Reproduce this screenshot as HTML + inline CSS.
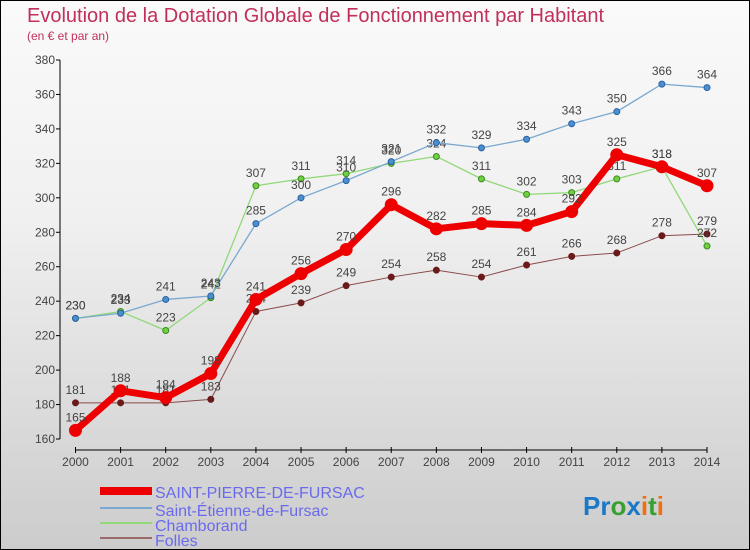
<!DOCTYPE html>
<html><head><meta charset="utf-8"><style>
body{margin:0;width:750px;height:550px;overflow:hidden;font-family:"Liberation Sans",sans-serif}
#wrap{position:absolute;left:0;top:0;width:748px;height:548px;border:1px solid #000;background:linear-gradient(#fafafa,#f0f0f0 40%,#cccccc)}
</style></head><body>
<div id="wrap">
<svg id="chart" width="750" height="550" style="position:absolute;left:-1px;top:-1px">
<text x="27" y="22" font-size="20" fill="#c0305a">Evolution de la Dotation Globale de Fonctionnement par Habitant</text>
<text x="27" y="40" font-size="12" fill="#c0305a">(en € et par an)</text>
<g id="axes"></g><g id="series"></g>
<g>
<rect x="100" y="487" width="52" height="8" fill="#e00"/>
<text x="155" y="498" font-size="16" fill="#6a6aee">SAINT-PIERRE-DE-FURSAC</text>
<rect x="100" y="507" width="52" height="2" fill="#7aa8d0"/>
<text x="155" y="516" font-size="16" fill="#6a6aee">Saint-Étienne-de-Fursac</text>
<rect x="100" y="522" width="52" height="2" fill="#90d878"/>
<text x="155" y="531" font-size="16" fill="#6a6aee">Chamborand</text>
<rect x="100" y="537" width="52" height="2" fill="#9a6a6a"/>
<text x="155" y="546" font-size="16" fill="#6a6aee">Folles</text>
</g>
<text x="583" y="515" font-size="26" font-weight="bold"><tspan fill="#1a78c8">Pr</tspan><tspan fill="#38a030">o</tspan><tspan fill="#1a78c8">x</tspan><tspan fill="#f07010">i</tspan><tspan fill="#38a030">t</tspan><tspan fill="#f07010">i</tspan></text>
</svg></div>
<script>
const years=[2000,2001,2002,2003,2004,2005,2006,2007,2008,2009,2010,2011,2012,2013,2014];
const spf=[165,188,184,198,241,256,270,296,282,285,284,292,325,318,307];
const sef=[230,233,241,243,285,300,310,321,332,329,334,343,350,366,364];
const chamborand=[230,234,223,242,307,311,314,320,324,311,302,303,311,318,272];
const folles=[181,181,181,183,234,239,249,254,258,254,261,266,268,278,279];
const yTicks=[160,180,200,220,240,260,280,300,320,340,360,380];
const NS="http://www.w3.org/2000/svg";
const X=i=>75.5+i*(707-75.5)/(years.length-1);
const Y=v=>439-(v-160)*(439-60)/220;
function mk(t,a,p){const e=document.createElementNS(NS,t);for(const k in a)e.setAttribute(k,a[k]);p.appendChild(e);return e;}
const ax=document.getElementById('axes');
let e=mk('line',{x1:60,y1:60,x2:60,y2:439,stroke:'#000'},ax);


e=mk('line',{x1:75,y1:450,x2:707,y2:450,stroke:'#000'},ax);


yTicks.forEach(v=>{
 mk('line',{x1:56,y1:Y(v),x2:60,y2:Y(v),stroke:'#000'},ax);
 const t=mk('text',{x:55,y:Y(v)+4,'font-size':12,fill:'#444','text-anchor':'end'},ax);t.textContent=v;
 
 
});
years.forEach((y,i)=>{
 mk('line',{x1:X(i),y1:447,x2:X(i),y2:453,stroke:'#000'},ax);
 const t=mk('text',{x:X(i),y:466,'font-size':12,fill:'#444','text-anchor':'middle'},ax);t.textContent=y;
 
 
});
const sg=document.getElementById('series');
function draw(data,name,color,w,r,dot,dotStroke){
 const g=mk('g',{},sg);
 
 
 const l=mk('polyline',{points:data.map((v,i)=>X(i)+','+Y(v)).join(' '),fill:'none',stroke:color,'stroke-width':w,'stroke-linejoin':'round'},g);
 
 
 data.forEach((v,i)=>{
  const c=mk('circle',{cx:X(i),cy:Y(v),r:r,fill:dot,stroke:dotStroke,'stroke-width':1},g);
  
  
  const t=mk('text',{x:X(i),y:Y(v)-9,'font-size':12,fill:'#444','text-anchor':'middle'},g);t.textContent=v;
  
  
 });
}
draw(folles,'folles','#8a4a4a',1,3,'#6a1a1a','#6a1a1a');
draw(chamborand,'chamborand','#90d878',1.3,3,'#70d040','#3a8a20');
draw(sef,'saint-etienne-de-fursac','#7aa8d0',1.3,3,'#4a90d0','#2a60a0');
draw(spf,'saint-pierre-de-fursac','#ee0000',7,6,'#ee0000','#ee0000');
</script>
</body></html>
